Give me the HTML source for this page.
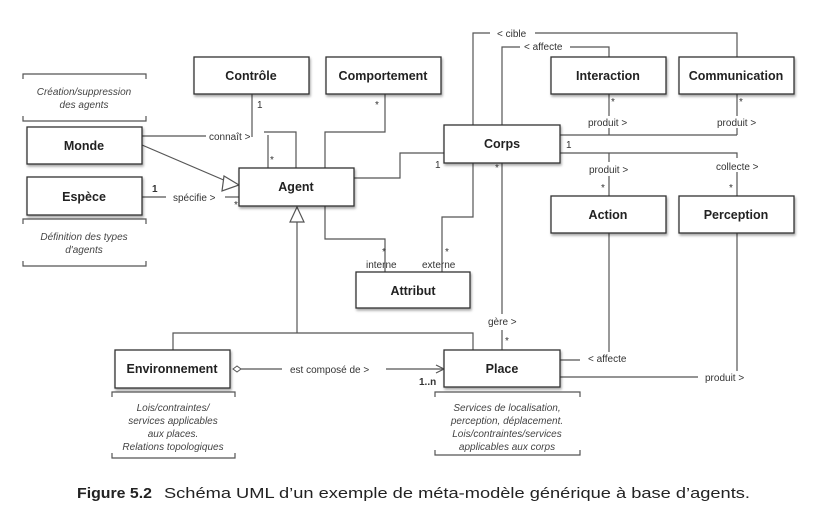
<!DOCTYPE html>
<html><head><meta charset="utf-8"><style>
html,body{margin:0;padding:0;background:#fff}
svg{display:block}
text{font-family:"Liberation Sans",sans-serif;fill:#222}
.b{font-weight:bold;font-size:12.5px;text-anchor:middle}
.l{font-size:10px;fill:#333}
.n{font-size:10px;font-style:italic;fill:#444;text-anchor:middle}
.ln{stroke:#555;stroke-width:1.2;fill:none}
.bx{fill:#fff;stroke:#333;stroke-width:1.3}
</style></head><body>
<svg width="830" height="522" viewBox="0 0 830 522" xmlns="http://www.w3.org/2000/svg">
<defs><filter id="sh" x="-10%" y="-10%" width="130%" height="140%"><feDropShadow dx="1" dy="2" stdDeviation="1.2" flood-color="#000" flood-opacity="0.35"/></filter></defs>

<!-- connectors -->
<g class="ln">
<!-- Monde connait -->
<path d="M142 136 H206"/><path d="M264 132 H296 V168"/>
<path d="M252 94 V137"/><path d="M268 135 V168"/>
<!-- Comportement -->
<path d="M385 94 V132 H325 V168"/>
<!-- Monde generalization -->
<path d="M142 145 L226 181"/>
<!-- Espece -->
<path d="M142 197 H166"/><path d="M225 197 H239"/>
<!-- Agent to Corps -->
<path d="M354 178 H400 V153 H444"/>
<!-- Agent to Attribut -->
<path d="M325 206 V239 H385 V272"/>
<!-- Corps to Attribut -->
<path d="M473 163 V217 H442 V272"/>
<!-- Corps to Place -->
<path d="M502 163 V314"/><path d="M502 330 V350"/>
<!-- cible / affecte -->
<path d="M473 125 V33 H490"/><path d="M535 33 H737 V57"/>
<path d="M502 125 V47 H520"/><path d="M570 47 H609 V57"/>
<!-- Interaction / Communication produit -->
<path d="M609 94 V116"/><path d="M609 128 V135"/>
<path d="M737 94 V116"/><path d="M737 128 V135"/>
<path d="M560 135 H737"/>
<path d="M560 153 H737 V158"/><path d="M737 172 V196"/>
<path d="M609 153 V162"/><path d="M609 176 V196"/>
<!-- Action / Perception down -->
<path d="M609 233 V352"/><path d="M560 360 H580"/>
<path d="M737 233 V371"/><path d="M560 377 H698"/>
<!-- Agent generalization tree -->
<path d="M297 222 V333"/><path d="M173 350 V333 H473 V350"/>
<!-- Env to Place -->
<path d="M241 369 H282"/><path d="M386 369 H443"/>
<path d="M436 365 L444 369 L436 373"/>
</g>
<!-- triangles & diamond -->
<polygon points="239,185 224,176 222,191" fill="#fff" stroke="#555" stroke-width="1.2"/>
<polygon points="297,207 290,222 304,222" fill="#fff" stroke="#555" stroke-width="1.2"/>
<polygon points="233,369 237,366 241,369 237,372" fill="#fff" stroke="#555" stroke-width="1"/>

<!-- notes brackets -->
<g class="ln" stroke-width="1">
<path d="M23 79 V74 H146 V79"/><path d="M23 116 V121 H146 V116"/>
<path d="M23 224 V219 H146 V224"/><path d="M23 261 V266 H146 V261"/>
<path d="M112 397 V392 H235 V397"/><path d="M112 453 V458 H235 V453"/>
<path d="M435 397 V392 H580 V397"/><path d="M435 450 V455 H580 V450"/>
</g>

<!-- boxes -->
<g filter="url(#sh)">
<rect class="bx" x="194" y="57" width="115" height="37"/>
<rect class="bx" x="326" y="57" width="115" height="37"/>
<rect class="bx" x="551" y="57" width="115" height="37"/>
<rect class="bx" x="679" y="57" width="115" height="37"/>
<rect class="bx" x="27" y="127" width="115" height="37"/>
<rect class="bx" x="27" y="177" width="115" height="38"/>
<rect class="bx" x="239" y="168" width="115" height="38"/>
<rect class="bx" x="444" y="125" width="116" height="38"/>
<rect class="bx" x="551" y="196" width="115" height="37"/>
<rect class="bx" x="679" y="196" width="115" height="37"/>
<rect class="bx" x="356" y="272" width="114" height="36"/>
<rect class="bx" x="115" y="350" width="115" height="38"/>
<rect class="bx" x="444" y="350" width="116" height="37"/>
</g>
<text class="b" x="251" y="80">Contrôle</text>
<text class="b" x="383" y="80">Comportement</text>
<text class="b" x="608" y="80">Interaction</text>
<text class="b" x="736" y="80">Communication</text>
<text class="b" x="84" y="150">Monde</text>
<text class="b" x="84" y="201">Espèce</text>
<text class="b" x="296" y="191">Agent</text>
<text class="b" x="502" y="148">Corps</text>
<text class="b" x="608" y="219">Action</text>
<text class="b" x="736" y="219">Perception</text>
<text class="b" x="413" y="295">Attribut</text>
<text class="b" x="172" y="373">Environnement</text>
<text class="b" x="502" y="373">Place</text>

<!-- labels -->
<text class="l" x="209" y="140">connaît &gt;</text>
<text class="l" x="257" y="108">1</text>
<text class="l" x="270" y="163">*</text>
<text class="l" x="375" y="108">*</text>
<text class="l" x="152" y="192" font-weight="bold">1</text>
<text class="l" x="173" y="201">spécifie &gt;</text>
<text class="l" x="234" y="208">*</text>
<text class="l" x="435" y="168">1</text>
<text class="l" x="566" y="148">1</text>
<text class="l" x="495" y="171">*</text>
<text class="l" x="382" y="255">*</text>
<text class="l" x="366" y="268">interne</text>
<text class="l" x="445" y="255">*</text>
<text class="l" x="422" y="268">externe</text>
<text class="l" x="497" y="37">&lt; cible</text>
<text class="l" x="524" y="50">&lt; affecte</text>
<text class="l" x="611" y="105">*</text>
<text class="l" x="739" y="105">*</text>
<text class="l" x="588" y="126">produit &gt;</text>
<text class="l" x="717" y="126">produit &gt;</text>
<text class="l" x="589" y="173">produit &gt;</text>
<text class="l" x="716" y="170">collecte &gt;</text>
<text class="l" x="601" y="191">*</text>
<text class="l" x="729" y="191">*</text>
<text class="l" x="488" y="325">gère &gt;</text>
<text class="l" x="505" y="344">*</text>
<text class="l" x="290" y="373">est composé de &gt;</text>
<text class="l" x="419" y="385" font-weight="bold" font-size="11">1..n</text>
<text class="l" x="588" y="362">&lt; affecte</text>
<text class="l" x="705" y="381">produit &gt;</text>

<!-- notes -->
<text class="n" x="84" y="95">Création/suppression</text>
<text class="n" x="84" y="108">des agents</text>
<text class="n" x="84" y="240">Définition des types</text>
<text class="n" x="84" y="253">d'agents</text>
<text class="n" x="173" y="411">Lois/contraintes/</text>
<text class="n" x="173" y="424">services applicables</text>
<text class="n" x="173" y="437">aux places.</text>
<text class="n" x="173" y="450">Relations topologiques</text>
<text class="n" x="507" y="411">Services de localisation,</text>
<text class="n" x="507" y="424">perception, déplacement.</text>
<text class="n" x="507" y="437">Lois/contraintes/services</text>
<text class="n" x="507" y="450">applicables aux corps</text>

<!-- caption -->
<text x="77" y="498" font-size="15" font-weight="bold" textLength="75" lengthAdjust="spacingAndGlyphs">Figure 5.2</text>
<text x="164" y="498" font-size="15" textLength="586" lengthAdjust="spacingAndGlyphs">Schéma UML d’un exemple de méta-modèle générique à base d’agents.</text>
</svg>
</body></html>
